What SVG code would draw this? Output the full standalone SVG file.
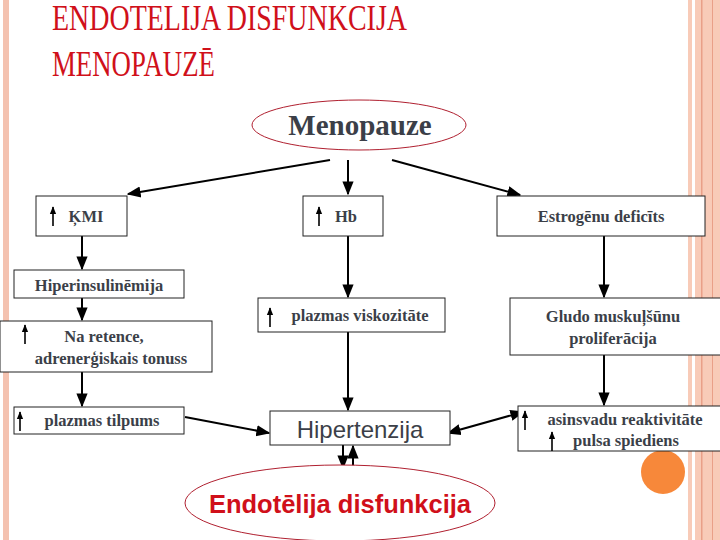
<svg xmlns="http://www.w3.org/2000/svg" width="720" height="540" viewBox="0 0 720 540">
<defs>
<marker id="ah" viewBox="0 0 10 10" refX="9" refY="5" markerWidth="7" markerHeight="7" orient="auto-start-reverse"><path d="M0,1 L10,5 L0,9 z" fill="#000"/></marker>
<marker id="uh" viewBox="0 0 10 10" refX="9" refY="5" markerWidth="5" markerHeight="5" orient="auto"><path d="M0,1 L10,5 L0,9 z" fill="#000"/></marker>
<style>
.box{fill:#fff;stroke:#222;stroke-width:1}
.t{font-family:"Liberation Serif","Times New Roman",serif;font-weight:bold;font-size:16.5px;fill:#3b3f48;text-anchor:middle}
.c{stroke:#000;stroke-width:2;fill:none;marker-end:url(#ah)}
.u{stroke:#000;stroke-width:1.6;marker-end:url(#uh)}
</style>
</defs>
<rect width="720" height="540" fill="#fff"/>
<rect x="3" y="0" width="6" height="540" fill="#f4c2b0"/>
<rect x="688" y="0" width="32" height="540" fill="#f8cbb8"/>
<rect x="692" y="0" width="3" height="540" fill="#fff"/>
<rect x="701" y="0" width="1.5" height="540" fill="#e9a088"/>
<rect x="712" y="0" width="1" height="540" fill="#e9a088"/>
<circle cx="663" cy="472" r="22" fill="#f7883a"/>
<text x="52" y="30" font-family="Liberation Serif,serif" font-size="36" fill="#d0101a" textLength="355" lengthAdjust="spacingAndGlyphs">ENDOTELIJA DISFUNKCIJA</text>
<text x="52" y="76" font-family="Liberation Serif,serif" font-size="36" fill="#d0101a" textLength="163" lengthAdjust="spacingAndGlyphs">MENOPAUZĒ</text>
<g id="connectors">
<line class="c" x1="330" y1="160" x2="128" y2="194"/>
<line class="c" x1="348" y1="160" x2="348" y2="194"/>
<line class="c" x1="392" y1="160" x2="520" y2="195"/>
<line class="c" x1="82" y1="236" x2="82" y2="269"/>
<line class="c" x1="82" y1="298" x2="82" y2="320"/>
<line class="c" x1="82" y1="372" x2="82" y2="406"/>
<line class="c" x1="185" y1="417" x2="269" y2="433"/>
<line class="c" x1="348" y1="236" x2="348" y2="297"/>
<line class="c" x1="348" y1="332" x2="348" y2="410"/>
<line class="c" x1="604" y1="236" x2="604" y2="297"/>
<line class="c" x1="604" y1="355" x2="604" y2="405"/>
<line class="c" x1="523" y1="412" x2="448" y2="433" style="marker-start:url(#ah)"/>
<line class="c" x1="343" y1="445" x2="343" y2="468"/>
<line class="c" x1="353" y1="468" x2="353" y2="446"/>
</g>
<g id="menopauze"><ellipse cx="359" cy="125" rx="107" ry="25" fill="#fff" stroke="#b02030" stroke-width="1"/><text class="t" x="360" y="135" style="font-size:29px">Menopauze</text></g>
<g id="kmi"><rect class="box" x="36" y="196" width="91" height="40"/><line class="u" x1="53" y1="226" x2="53" y2="207"/><text class="t" x="86" y="222">ĶMI</text></g>
<g id="hb"><rect class="box" x="303" y="196" width="80" height="40"/><line class="u" x1="319" y1="226" x2="319" y2="207"/><text class="t" x="346" y="222">Hb</text></g>
<g id="estrogenu"><rect class="box" x="497" y="196" width="208" height="40"/><text class="t" x="601" y="222">Estrogēnu deficīts</text></g>
<g id="hiperinsulinemija"><rect class="box" x="14" y="270" width="170" height="28"/><text class="t" x="99" y="291">Hiperinsulinēmija</text></g>
<g id="naretence"><rect class="box" x="0" y="321" width="212" height="51"/><line class="u" x1="25" y1="344" x2="25" y2="325"/><text class="t" x="104" y="342">Na retence,</text><text class="t" x="111" y="364">adrenerģiskais tonuss</text></g>
<g id="tilpums"><rect class="box" x="14" y="407" width="170" height="27"/><line class="u" x1="20" y1="431" x2="20" y2="412"/><text class="t" x="102" y="426">plazmas tilpums</text></g>
<g id="viskozitate"><rect class="box" x="258" y="298" width="187" height="34"/><line class="u" x1="270" y1="327" x2="270" y2="308"/><text class="t" x="360" y="321">plazmas viskozitāte</text></g>
<g id="hipertenzija"><rect class="box" x="270" y="411" width="180" height="34"/><text x="360" y="438" font-family="Liberation Sans,sans-serif" font-size="24" fill="#3b3f48" text-anchor="middle">Hipertenzija</text></g>
<g id="gludo"><rect class="box" x="510" y="298" width="215" height="57"/><text class="t" x="613" y="322">Gludo muskuļšūnu</text><text class="t" x="613" y="344">proliferācija</text></g>
<g id="asinsvadu"><rect class="box" x="518" y="406" width="210" height="45"/><line class="u" x1="525" y1="430" x2="525" y2="411"/><line class="u" x1="552" y1="451" x2="552" y2="432"/><text class="t" x="625" y="425">asinsvadu reaktivitāte</text><text class="t" x="626" y="446">pulsa spiediens</text></g>
<g id="endotelija"><ellipse cx="340" cy="503" rx="155" ry="38" fill="#fff" stroke="#b02030" stroke-width="1"/><text x="340" y="513" font-family="Liberation Sans,sans-serif" font-weight="bold" font-size="25.5" fill="#d0101a" text-anchor="middle">Endotēlija disfunkcija</text></g>
</svg>
